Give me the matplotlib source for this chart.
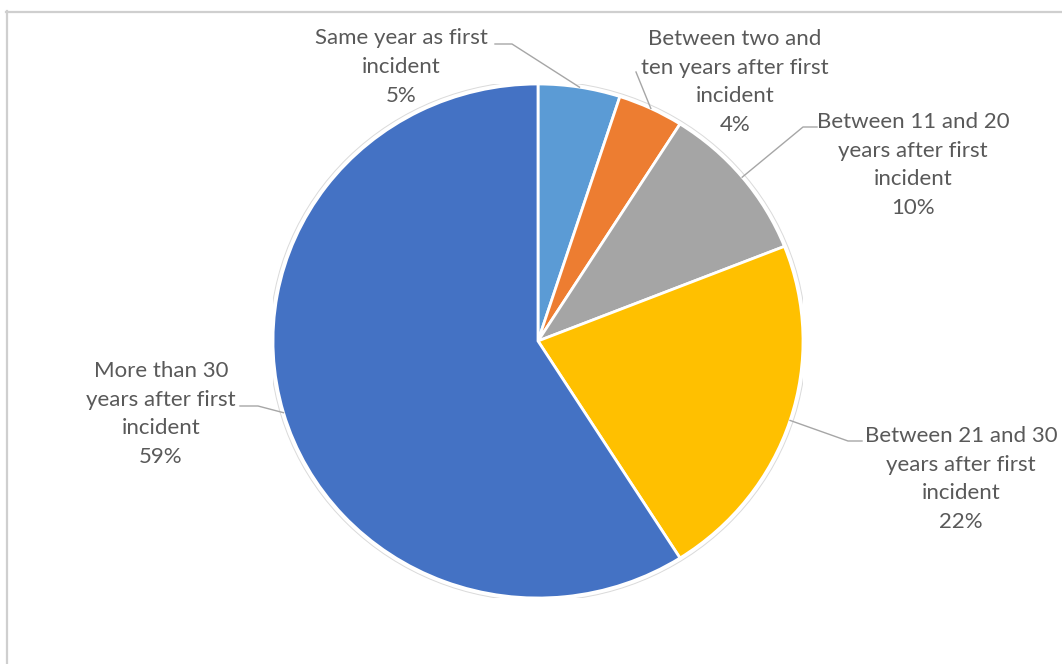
import matplotlib.pyplot as plt
import numpy as np
from matplotlib.lines import Line2D

labels = ["Same year as first\nincident", "Between two and\nten years after first\nincident",
          "Between 11 and 20\nyears after first\nincident", "Between 21 and 30\nyears after first\nincident",
          "More than 30\nyears after first\nincident"]
values = [5, 4, 10, 22, 59]
colors = ["#5B9BD5", "#ED7D31", "#A5A5A5", "#FFC000", "#4472C4"]

# label block centres and leader elbows (image pixels, y down)
label_pos = [(401, 67), (735, 82), (913, 165), (961, 479), (161, 414)]
elbows = [[(495, 44), (512, 44)], [(636, 72)], [(817, 127), (803, 127)],
          [(862, 441), (848, 441)], [(240, 406), (258, 406)]]

W, H = 1062, 664
plt.rcParams['font.family'] = ['Lato', 'DejaVu Sans']
fig = plt.figure(figsize=(W / 100, H / 100), dpi=100)

# pie area: x 273..803, y 84..598 in image pixels
ax = fig.add_axes([273 / W, 1 - 598 / H, 530 / W, 514 / H])
wedges, _ = ax.pie(values, colors=colors, startangle=90, counterclock=False,
                   wedgeprops=dict(edgecolor='white', linewidth=2))
ax.set_aspect('auto')
ax.set_xlim(-1.0, 1.0)
ax.set_ylim(-1.0, 1.0)
ax.add_patch(plt.Circle((0, 0), 1.012, fill=False, edgecolor='#DADADA', linewidth=0.7))

# labels with leader lines
cum = np.cumsum([0] + values)
for i, lab in enumerate(labels):
    mid = 90 - 360 * (cum[i] + values[i] / 2) / 100
    ax_pt = ax.transData.transform((np.cos(np.radians(mid)), np.sin(np.radians(mid))))
    pts = [(ax_pt[0], ax_pt[1])] + [(x, H - y) for x, y in reversed(elbows[i])]
    xs = [p[0] / W for p in pts]
    ys = [p[1] / H for p in pts]
    fig.add_artist(Line2D(xs, ys, color='#A6A6A6', linewidth=1.0, transform=fig.transFigure))
    cx, cy = label_pos[i]
    fig.text(cx / W, 1 - cy / H, lab + "\n%d%%" % values[i], ha='center', va='center',
             fontsize=16, color='#595959', linespacing=1.55)

# chart frame (only left and top visible)
fig.add_artist(Line2D([6.5 / W, 6.5 / W], [0, 1 - 11 / H], color='#CFCFCF', linewidth=1.6,
                      transform=fig.transFigure))
fig.add_artist(Line2D([6 / W, 1], [1 - 11.5 / H, 1 - 11.5 / H], color='#CFCFCF', linewidth=1.6,
                      transform=fig.transFigure))

fig.savefig("out.png", dpi=100)
